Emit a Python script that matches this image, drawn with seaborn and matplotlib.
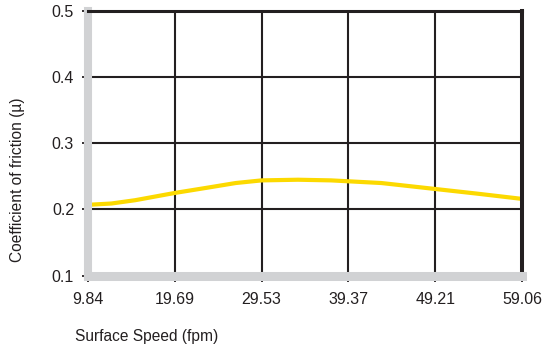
import matplotlib
matplotlib.use("Agg")
import matplotlib.pyplot as plt
import seaborn as sns
import pandas as pd

# Friction coefficient versus surface speed
speed = [9.84, 12.50, 15.19, 19.69, 23.40, 26.59, 29.53, 33.65, 37.41, 43.11, 49.21, 53.93, 59.06]
mu = [0.207, 0.209, 0.214, 0.225, 0.233, 0.240, 0.244, 0.245, 0.244, 0.240, 0.231, 0.224, 0.216]
x_ticks = [9.84, 19.69, 29.53, 39.37, 49.21, 59.06]
y_ticks = [0.1, 0.2, 0.3, 0.4, 0.5]

sns.set_theme(style="white")
plt.rcParams["font.family"] = ["Liberation Sans", "DejaVu Sans"]

dark = "#231f20"
gray = "#d1d2d4"
yellow = "#fcd900"

fig = plt.figure(figsize=(5.43, 3.47), dpi=100)
ax = fig.add_axes([88 / 543, 1 - 275.5 / 347, (522 - 88) / 543, (275.5 - 11.3) / 347])

df = pd.DataFrame({"speed": speed, "mu": mu})
sns.lineplot(data=df, x="speed", y="mu", ax=ax, color=yellow, linewidth=3.0, zorder=3)

ax.set_xlim(x_ticks[0], x_ticks[-1])
ax.set_ylim(y_ticks[0], y_ticks[-1])
ax.set_xticks(x_ticks)
ax.set_xticklabels([f"{v:.2f}" for v in x_ticks])
ax.set_yticks(y_ticks)
ax.set_yticklabels([f"{v:.1f}" for v in y_ticks])

ax.grid(True, color=dark, linewidth=1.5)
ax.set_axisbelow(True)

ax.spines["left"].set_color(gray)
ax.spines["left"].set_linewidth(5.8)
ax.spines["bottom"].set_color(gray)
ax.spines["bottom"].set_linewidth(6.5)
ax.spines["top"].set_color(dark)
ax.spines["top"].set_linewidth(2.2)
ax.spines["right"].set_color(dark)
ax.spines["right"].set_linewidth(2.9)
for s in ax.spines.values():
    s.set_zorder(4)

ax.tick_params(axis="both", which="major", direction="out", length=4, width=1.3,
               color=dark, labelsize=11.5, labelcolor=dark)
ax.tick_params(axis="x", pad=8, bottom=True)
ax.tick_params(axis="y", pad=6, left=True)

ax.set_xlabel("")
ax.set_ylabel("")
fig.text(18 / 543, 1 - 180 / 347, "Coefficient of friction (\u00b5)", rotation=90,
         ha="center", va="center", fontsize=11.2, color=dark)
fig.text(75 / 543, 1 - 337 / 347, "Surface Speed (fpm)", ha="left", va="center",
         fontsize=11.2, color=dark)

fig.savefig("out.png", dpi=100)
